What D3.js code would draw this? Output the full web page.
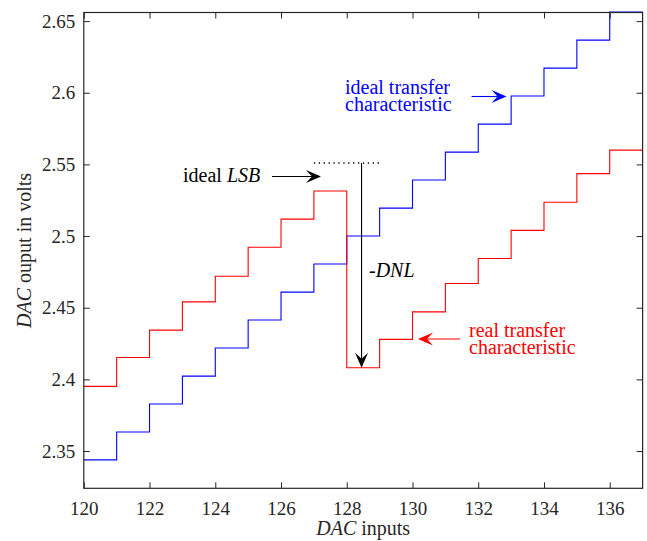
<!DOCTYPE html>
<html>
<head>
<meta charset="utf-8">
<script src="https://cdn.jsdelivr.net/npm/d3@7"></script>
</head>
<body style="margin:0;padding:0;background:#fff">
<svg id="chart" width="647" height="541" font-family="Liberation Serif, Noto Serif, serif" style="display:block"></svg>
<script>
// ---- data ----
const dacInputs = [120,121,122,123,124,125,126,127,128,129,130,131,132,133,134,135,136];
const idealVolts = [2.3438,2.3633,2.3828,2.4023,2.4219,2.4414,2.4609,2.4805,2.5000,2.5195,2.5391,2.5586,2.5781,2.5977,2.6172,2.6367,2.6563];
const realVolts  = [2.3951,2.4153,2.4344,2.4541,2.4720,2.4922,2.5118,2.5315,2.4081,2.4279,2.4471,2.4669,2.4844,2.5040,2.5236,2.5436,2.5600];
const xTicks = [120,122,124,126,128,130,132,134,136];
const yTicks = [2.35,2.4,2.45,2.5,2.55,2.6,2.65];
const yTickLabels = ["2.35","2.4","2.45","2.5","2.55","2.6","2.65"];
const xDomain = [120, 137];
const yDomain = [2.324, 2.656];
// annotation anchors (data coords)
const lsbLevel = 2.551;           // real(127) + ideal LSB
const lsbSpan = [127, 129];
const dnlX = 128.45;
const dnlBottom = 2.4081;

// ---- layout ----
const svg = d3.select("#chart");
const m = { left: 83.8, top: 12.5, right: 647 - 642.6, bottom: 541 - 488.3 };
const W = 647 - m.left - m.right, H = 541 - m.top - m.bottom;
const x = d3.scaleLinear().domain(xDomain).range([0, W]);
const y = d3.scaleLinear().domain(yDomain).range([H, 0]);
const axisColor = "#262626";
const FONT = "Liberation Serif, Noto Serif, serif";

const g = svg.append("g").attr("transform", `translate(${m.left},${m.top})`);

// ---- staircases ----
function stairData(vals) {
  const pts = dacInputs.map((d, i) => [d, vals[i]]);
  pts.push([xDomain[1], vals[vals.length - 1]]);
  return pts;
}
const line = d3.line().x(d => x(d[0])).y(d => y(d[1])).curve(d3.curveStepAfter);
const plot = g.append("g");
plot.append("path").attr("d", line(stairData(idealVolts)))
  .attr("fill", "none").attr("stroke", "#0000ff").attr("stroke-width", 1.1);
plot.append("path").attr("d", line(stairData(realVolts)))
  .attr("fill", "none").attr("stroke", "#ff0000").attr("stroke-width", 1.1);

// ---- axes ----
const tickLen = 6;
const fs = 19;
const xAx = g.append("g").attr("transform", `translate(0,${H})`)
  .call(d3.axisBottom(x).tickValues(xTicks).tickSize(-tickLen).tickPadding(14).tickFormat(d3.format("d")));
const yAx = g.append("g")
  .call(d3.axisLeft(y).tickValues(yTicks).tickSize(-tickLen).tickPadding(10).tickFormat((d, i) => yTickLabels[i]));
const xTop = g.append("g")
  .call(d3.axisTop(x).tickValues(xTicks).tickSize(-tickLen).tickFormat(""));
const yRight = g.append("g").attr("transform", `translate(${W},0)`)
  .call(d3.axisRight(y).tickValues(yTicks).tickSize(-tickLen).tickFormat(""));

[xAx, yAx, xTop, yRight].forEach(a => {
  a.attr("font-family", FONT).attr("font-size", fs);
  a.select(".domain").remove();
  a.selectAll(".tick line").attr("stroke", axisColor).attr("stroke-width", 1);
  a.selectAll(".tick text").attr("fill", axisColor)
    .attr("font-family", FONT).attr("font-size", fs);
});
xAx.selectAll(".tick text").attr("dy", "0.71em").attr("y", 13);
yAx.selectAll(".tick text").attr("x", -8.5);

// box
g.append("rect").attr("x", 0).attr("y", 0).attr("width", W).attr("height", H)
  .attr("fill", "none").attr("stroke", axisColor).attr("stroke-width", 1.2);

function txt(xp, yp, size, color) {
  return svg.append("text").attr("x", xp).attr("y", yp).attr("fill", color)
    .attr("font-family", FONT).attr("font-size", size);
}

// axis labels
const xl = txt(m.left + W / 2, 535, 20, axisColor).attr("text-anchor", "middle");
xl.append("tspan").attr("font-style", "italic").text("DAC");
xl.append("tspan").text(" inputs");

const yl = txt(0, 0, 20, axisColor).attr("text-anchor", "middle")
  .attr("transform", `translate(31,${m.top + H / 2}) rotate(-90)`);
yl.append("tspan").attr("font-style", "italic").text("DAC");
yl.append("tspan").text(" ouput in volts");

// ---- annotations ----
function arrow(x1, y1, x2, y2, color) {
  const ang = Math.atan2(y2 - y1, x2 - x1);
  const L = 15, Wd = 6.5, notch = 9;
  const ca = Math.cos(ang), sa = Math.sin(ang);
  const pt = (a, b) => [x2 + a * ca - b * sa, y2 + a * sa + b * ca];
  const base = pt(-notch, 0);
  svg.append("line").attr("x1", x1).attr("y1", y1).attr("x2", base[0]).attr("y2", base[1])
    .attr("stroke", color).attr("stroke-width", 1.1);
  const p = [pt(0, 0), pt(-L, -Wd), pt(-notch, 0), pt(-L, Wd)];
  svg.append("path").attr("d", "M" + p.map(q => q.join(",")).join("L") + "Z").attr("fill", color);
}

function twoLine(xp, yp, size, color, l1, l2) {
  const t = txt(xp, yp, size, color);
  t.append("tspan").attr("x", xp).text(l1);
  t.append("tspan").attr("x", xp).attr("dy", 17).text(l2);
  return t;
}

svg.append("line")
  .attr("x1", m.left + x(lsbSpan[0])).attr("x2", m.left + x(lsbSpan[1]))
  .attr("y1", m.top + y(lsbLevel)).attr("y2", m.top + y(lsbLevel))
  .attr("stroke", "#000").attr("stroke-width", 1.3).attr("stroke-dasharray", "1.3,3.6");

arrow(m.left + x(dnlX), m.top + y(lsbLevel), m.left + x(dnlX), m.top + y(dnlBottom), "#000");

const afs = 20;
const t1 = txt(183, 181.5, afs, "#000");
t1.append("tspan").text("ideal ");
t1.append("tspan").attr("font-style", "italic").text("LSB");
arrow(272, 176.5, 321, 176.5, "#000");

const t2 = txt(369, 276.5, afs, "#000");
t2.append("tspan").text("-");
t2.append("tspan").attr("font-style", "italic").text("DNL");

twoLine(345, 93.5, afs, "#0000ff", "ideal transfer", "characteristic");
arrow(471.5, 96.5, 506.5, 96.5, "#0000ff");

twoLine(469, 337, afs, "#ff0000", "real transfer", "characteristic");
arrow(460, 339, 418, 339, "#ff0000");
</script>
</body>
</html>
